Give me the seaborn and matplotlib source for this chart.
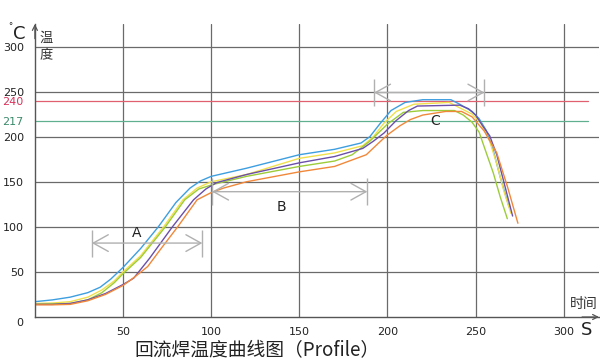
import matplotlib
matplotlib.use("Agg")
import matplotlib.pyplot as plt
from matplotlib.patches import ArrowStyle
import pandas as pd
import seaborn as sns

sns.set_theme(style="white")
plt.rcParams["font.family"] = ["DejaVu Sans", "Noto Sans CJK SC"]

# five thermocouple profiles (time in s, temperature in degC)
blue_t = [0, 10, 20, 30, 37, 43, 50, 60, 70, 80, 88, 94, 100, 120, 150, 170, 185, 190, 196, 202, 210, 220, 236, 241, 248, 252, 256, 260, 264, 269]
blue_v = [17, 19, 22, 27, 33, 42, 55, 76, 100, 127, 143, 151, 156, 165, 180, 186, 193, 200, 215, 229, 238, 241, 241, 236, 228, 220, 207, 185, 155, 122]

yellow_t = [0, 10, 20, 30, 38, 45, 50, 60, 73, 84, 92, 100, 120, 150, 170, 186, 192, 198, 205, 215, 235, 240, 248, 253, 258, 262, 266, 270]
yellow_v = [15, 15.5, 17, 22, 30, 40, 50, 68, 100, 130, 143, 150, 158, 176, 182, 190, 200, 215, 228, 236, 238, 233, 225, 215, 195, 170, 140, 115]

green_t = [0, 10, 20, 30, 38, 45, 50, 60, 74, 85, 93, 101, 120, 150, 170, 180, 190, 200, 209, 220, 238, 243, 248, 252, 255, 260, 264, 268]
green_v = [14, 14.5, 15, 19, 27, 38, 48, 66, 100, 130, 142, 147, 156, 167, 173, 180, 195, 214, 227, 229, 229, 224, 216, 205, 188, 160, 133, 109]

purple_t = [0, 10, 20, 30, 40, 44, 50, 56, 65, 78, 90, 97, 103, 120, 150, 170, 186, 192, 198, 205, 212, 217, 241, 246, 250, 254, 258, 262, 266, 271]
purple_v = [14, 14, 15, 19, 26, 30, 36, 43, 65, 100, 130, 142, 149, 158, 171, 178, 187, 195, 204, 218, 229, 234, 235, 231, 224, 212, 201, 180, 150, 112]

orange_t = [0, 10, 20, 30, 40, 50, 57, 64, 72, 81, 92, 100, 107, 120, 150, 170, 188, 195, 200, 207, 213, 220, 233, 242, 248, 255, 262, 268, 274]
orange_v = [13.5, 13.5, 14, 18, 25, 35, 45, 56, 77, 100, 130, 138, 143, 150, 161, 167, 180, 193, 202, 212, 219, 224, 228, 228, 222, 206, 182, 145, 104]

probe_names = ["blue", "yellow", "green", "purple", "orange"]
probe_colors = ["#3d9ee0", "#f0e04c", "#9dcc3a", "#6b4fa8", "#f0883a"]

# reference levels
liquidus = 217
peak_limit = 240

# zones A, B, C
zone_names = ["A", "B", "C"]
zone_start = [32.3, 100.5, 192.4]
zone_end = [95, 188.6, 255]
zone_level = [82, 139, 249]
zone_label_x = [57.7, 140, 227]
zone_label_y = [93, 122, 217]

x_ticks = [50, 100, 150, 200, 250, 300]
y_ticks = [50, 100, 150, 200, 250, 300]

frames = []
for name, t, v in zip(probe_names,
                      [blue_t, yellow_t, green_t, purple_t, orange_t],
                      [blue_v, yellow_v, green_v, purple_v, orange_v]):
    frames.append(pd.DataFrame({"time": t, "temp": v, "probe": name}))
df = pd.concat(frames, ignore_index=True)

W, H = 600, 361
fig = plt.figure(figsize=(W / 100, H / 100), dpi=100)
x0, y0, x1, y1 = 34.9, 317, 599, 24
ax = fig.add_axes([x0 / W, 1 - y0 / H, (x1 - x0) / W, (y0 - y1) / H])


def px(x, y):
    return x / W, 1 - y / H


ax.set_xlim(0, 320)
ax.set_ylim(0, 325)
ax.set_axisbelow(True)
ax.set_xticks(x_ticks)
ax.set_yticks(y_ticks)
ax.set_yticks([liquidus, peak_limit], minor=True)
ax.set_yticklabels([str(liquidus), str(peak_limit)], minor=True)
ax.grid(True, which="major", color="#6a6a6a", linewidth=0.9)
ax.tick_params(axis="both", which="both", length=0, labelsize=8, colors="#222222")
ax.tick_params(axis="x", pad=7)
ax.tick_params(axis="y", which="both", pad=8)
minor_labels = ax.get_yticklabels(minor=True)
minor_labels[0].set_color("#3a8a6a")
minor_labels[1].set_color("#d8315b")

for side in ["top", "right"]:
    ax.spines[side].set_visible(False)
for side in ["left", "bottom"]:
    ax.spines[side].set_color("#555555")
    ax.spines[side].set_linewidth(1.0)

ax.axhline(peak_limit, xmin=0, xmax=314 / 320, color="#e06070", linewidth=0.9)
ax.axhline(liquidus, xmin=0, xmax=314 / 320, color="#60b090", linewidth=0.9)

sns.lineplot(data=df, x="time", y="temp", hue="probe", hue_order=probe_names,
             palette=dict(zip(probe_names, probe_colors)), linewidth=1.0,
             estimator=None, sort=False, legend=False, ax=ax)
ax.set_xlabel("")
ax.set_ylabel("")

# axis arrows
ax.annotate("", xy=(1, 0), xytext=(0.97, 0), xycoords="axes fraction",
            arrowprops=dict(arrowstyle="->", color="#555555", lw=0.9,
                            shrinkA=0, shrinkB=0, mutation_scale=9))
ax.annotate("", xy=(0, 1), xytext=(0, 0.95), xycoords="axes fraction",
            arrowprops=dict(arrowstyle="->", color="#555555", lw=0.9,
                            shrinkA=0, shrinkB=0, mutation_scale=9))

# process zones
zone_style = ArrowStyle("<->", head_length=0.9, head_width=0.5)
for name, s, e, lvl, lx, ly in zip(zone_names, zone_start, zone_end, zone_level,
                                   zone_label_x, zone_label_y):
    ax.annotate("", xy=(e, lvl), xytext=(s, lvl),
                arrowprops=dict(arrowstyle=zone_style, color="#b0b0b0", lw=1.0,
                                shrinkA=0, shrinkB=0, mutation_scale=12))
    ax.vlines([s, e], lvl - 15, lvl + 15, color="#b0b0b0", linewidth=1.0)
    ax.text(lx, ly, name, fontsize=10, ha="center", va="center", color="#222222")

# outer labels
fig.text(*px(20, 323), "0", fontsize=8, ha="center", va="center", color="#222222")
fig.text(*px(19, 34), "C", fontsize=13, ha="center", va="center", color="#222222")
fig.text(*px(10, 27), "°", fontsize=6, ha="center", va="center", color="#222222")
fig.text(*px(46.5, 38.5), "温", fontsize=9.5, ha="center", va="center",
         family=["Noto Sans CJK SC"], color="#333333")
fig.text(*px(46.5, 56), "度", fontsize=9.5, ha="center", va="center",
         family=["Noto Sans CJK SC"], color="#333333")
fig.text(*px(587, 330), "S", fontsize=13, ha="center", va="center", color="#222222")
fig.text(*px(584, 304), "时间", fontsize=10, ha="center", va="center",
         family=["Noto Sans CJK SC"], color="#333333")
fig.text(*px(257, 351), "回流焊温度曲线图（Profile）", fontsize=13.5, ha="center",
         va="center", family=["Noto Sans CJK SC", "DejaVu Sans"], color="#222222")

fig.savefig("out.png", dpi=100)
